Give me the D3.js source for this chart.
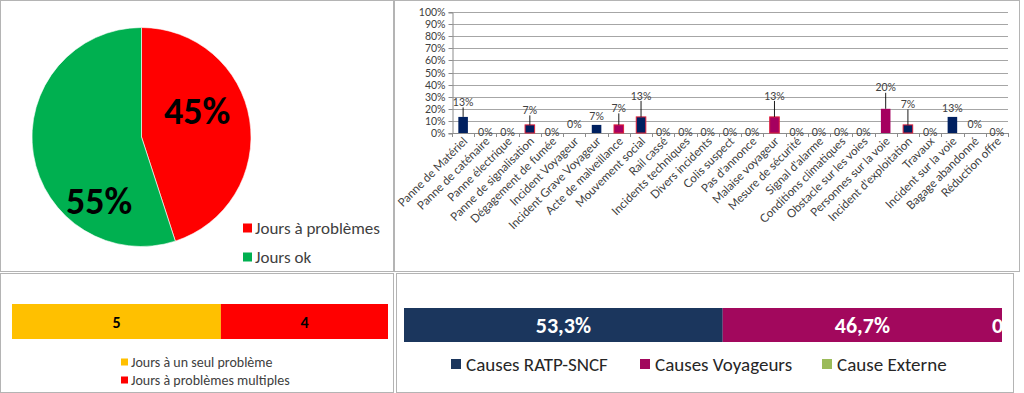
<!DOCTYPE html>
<html>
<head>
<meta charset="utf-8">
<script src="https://cdn.jsdelivr.net/npm/d3@7"></script>
<style>
  html, body { margin: 0; padding: 0; background: #fff; }
  svg { display: block; font-family: Carlito, Calibri, Lato, "Open Sans", sans-serif; }
</style>
</head>
<body>
<svg id="chart" width="1024" height="393"></svg>
<script>
// ---------- DATA ----------
const pieLabels = ["Jours à problèmes", "Jours ok"];
const pieValues = [45, 55];

const dayTypeLabels = ["Jours à un seul problème", "Jours à problèmes multiples"];
const dayTypeValues = [5, 4];

const causeLabels = ["Causes RATP-SNCF", "Causes Voyageurs", "Cause Externe"];
const causeValues = [53.3, 46.7, 0];

const categories = [
  "Panne de Matériel", "Panne de caténaire", "Panne électrique", "Panne de signalisation",
  "Dégagement de fumée", "Incident Voyageur", "Incident Grave Voyageur", "Acte de malveillance",
  "Mouvement social", "Rail cassé", "Incidents techniques", "Divers incidents", "Colis suspect",
  "Pas d'annonce", "Malaise voyageur", "Mesure de sécurité", "Signal d'alarme",
  "Conditions climatiques", "Obstacle sur les voies", "Personnes sur la voie",
  "Incident d'exploitation", "Travaux", "Incident sur la voie", "Bagage abandonné", "Réduction offre"
];
const categoryValues = [13.3, 0, 0, 6.7, 0, 0, 6.7, 6.7, 13.3, 0, 0, 0, 0, 0, 13.3, 0, 0, 0, 0, 20, 6.7, 0, 13.3, 0, 0];
const categoryGroup = [
  "RATP", "RATP", "RATP", "RATP", "RATP", "Voyageurs", "RATP", "Voyageurs",
  "RATP", "RATP", "RATP", "RATP", "Voyageurs", "RATP", "Voyageurs", "RATP", "Voyageurs",
  "Externe", "Externe", "Voyageurs", "RATP", "RATP", "RATP", "Voyageurs", "RATP"
];
const yTicks = [0, 10, 20, 30, 40, 50, 60, 70, 80, 90, 100];

// ---------- STYLE / LAYOUT ----------
const groupColor = { RATP: "#002060", Voyageurs: "#A5005F", Externe: "#9BBB59" };
const outlined = new Set(["Panne de signalisation", "Acte de malveillance", "Mouvement social",
  "Malaise voyageur", "Incident d'exploitation"]);
// extra upward shift (px) of some data labels, as in the reference (Excel label placement)
const labelRaise = { 0: 6, 3: 6, 5: 8.5, 7: 8, 8: 12.5, 14: 12.5, 19: 12.5, 20: 12, 23: 8.5 };

const svg = d3.select("#chart");
const border = "#b4b4b4";

// panel frames
[[0.5, 0.5, 393, 271], [394.5, 0.5, 625, 271], [0.5, 273.5, 393, 119], [396.5, 273.5, 617, 119]]
  .forEach(([x, y, w, h]) => svg.append("rect").attr("x", x).attr("y", y).attr("width", w).attr("height", h)
    .attr("fill", "none").attr("stroke", border));

// ---------- PIE ----------
const pieColors = ["#FF0000", "#00B050"];
const pieG = svg.append("g").attr("transform", "translate(141.5,137)");
const pie = d3.pie().sort(null).value(d => d)(pieValues);
const arc = d3.arc().innerRadius(0).outerRadius(109.5);
pieG.selectAll("path").data(pie).join("path")
  .attr("d", arc).attr("fill", (d, i) => pieColors[i]).attr("stroke", "#fff").attr("stroke-width", 0.6);
// label positions: polar (angle from top, radius)
const pieLabelPos = [[64, 62], [214, 76]];
pieG.selectAll("text.pl").data(pie).join("text").attr("class", "pl")
  .attr("x", (d, i) => pieLabelPos[i][1] * Math.sin(pieLabelPos[i][0] * Math.PI / 180))
  .attr("y", (d, i) => -pieLabelPos[i][1] * Math.cos(pieLabelPos[i][0] * Math.PI / 180))
  .attr("dy", "0.36em").attr("text-anchor", "middle")
  .attr("font-size", 38).attr("font-weight", "bold").attr("fill", "#000")
  .text(d => d3.format(".0%")(d.data / 100));
const pieLeg = svg.append("g").attr("transform", "translate(243,228)");
pieLabels.forEach((l, i) => {
  const g = pieLeg.append("g").attr("transform", `translate(0,${i * 29})`);
  g.append("rect").attr("x", 0).attr("y", -4.5).attr("width", 9).attr("height", 9).attr("fill", pieColors[i]);
  g.append("text").attr("x", 12).attr("dy", "0.35em").attr("font-size", 17).attr("fill", "#404040").text(l);
});

// ---------- CATEGORY BAR CHART ----------
const x = d3.scaleBand().domain(categories).range([452, 1008]).paddingInner(0.57).paddingOuter(0.285);
const y = d3.scaleLinear().domain([0, 100]).range([133, 12]);

const grid = svg.append("g");
grid.selectAll("line").data(yTicks).join("line")
  .attr("x1", 452).attr("x2", 1008).attr("y1", d => Math.round(y(d)) + 0.5).attr("y2", d => Math.round(y(d)) + 0.5)
  .attr("stroke", d => d === 0 ? "#8c8c8c" : "#a6a6a6").attr("stroke-width", 1);

const yAxis = d3.axisLeft(y).tickValues(yTicks).tickSize(4).tickFormat(d => d + "%");
const yg = svg.append("g").attr("transform", "translate(452.5,0.5)").call(yAxis);
yg.select(".domain").attr("stroke", "#8c8c8c");
yg.selectAll(".tick line").attr("stroke", "#8c8c8c");
yg.selectAll(".tick text").attr("font-family", "Lato, sans-serif").attr("font-size", 10.5).attr("fill", "#404040").attr("x", -7);
yg.selectAll(".tick").attr("transform", d => `translate(0,${Math.round(y(d))})`);

// category boundary tick marks
const step = x.step();
svg.append("g").selectAll("line").data(d3.range(categories.length + 1)).join("line")
  .attr("x1", i => Math.round(452 + i * step) + 0.5).attr("x2", i => Math.round(452 + i * step) + 0.5)
  .attr("y1", 133).attr("y2", 137).attr("stroke", "#8c8c8c");

// bars
svg.append("g").selectAll("rect").data(categories).join("rect")
  .attr("x", d => x(d)).attr("width", x.bandwidth())
  .attr("y", (d, i) => y(categoryValues[i])).attr("height", (d, i) => y(0) - y(categoryValues[i]))
  .attr("fill", (d, i) => groupColor[categoryGroup[i]])
  .attr("stroke", d => outlined.has(d) ? "#E0203C" : "none").attr("stroke-width", 1)
  .attr("display", (d, i) => categoryValues[i] > 0 ? null : "none");

// data labels + leader lines
const labG = svg.append("g");
categories.forEach((c, i) => {
  const v = categoryValues[i];
  const cx = x(c) + x.bandwidth() / 2;
  const top = y(v);
  const base = v > 0 ? top - 8.5 : top - 0.5;
  const cy = base - (labelRaise[i] || 0);
  if (v > 0 && (labelRaise[i] || 0) > 5) {
    labG.append("line").attr("x1", cx).attr("x2", cx).attr("y1", cy + 5).attr("y2", top)
      .attr("stroke", "#000").attr("stroke-width", 0.9);
  }
  labG.append("text").attr("x", cx).attr("y", cy).attr("dy", "0.35em").attr("text-anchor", "middle")
    .attr("font-family", "Lato, sans-serif").attr("font-size", 10.5).attr("fill", "#404040")
    .text(Math.round(v) + "%");
});

// rotated category labels
svg.append("g").selectAll("text").data(categories).join("text")
  .attr("transform", d => `translate(${x(d) + x.bandwidth() / 2 + 5},${142}) rotate(-45)`)
  .attr("text-anchor", "end")
  .attr("font-family", "Lato, sans-serif").attr("font-size", 11.6).attr("fill", "#404040")
  .text(d => d);

// ---------- DAY TYPE STACKED BAR ----------
const dayColors = ["#FFC000", "#FF0000"];
const xd = d3.scaleLinear().domain([0, d3.sum(dayTypeValues)]).range([12, 388]);
const dayCum = d3.cumsum(dayTypeValues);
const dayG = svg.append("g");
dayTypeValues.forEach((v, i) => {
  const x0 = xd(dayCum[i] - v), x1 = xd(dayCum[i]);
  dayG.append("rect").attr("x", x0).attr("y", 304).attr("width", x1 - x0).attr("height", 35).attr("fill", dayColors[i]);
  dayG.append("text").attr("x", (x0 + x1) / 2).attr("y", 322).attr("dy", "0.35em").attr("text-anchor", "middle")
    .attr("font-size", 16).attr("font-weight", "bold").attr("fill", "#000").text(v);
});
dayTypeLabels.forEach((l, i) => {
  const g = dayG.append("g").attr("transform", `translate(121,${362 + i * 18})`);
  g.append("rect").attr("x", 0).attr("y", -3.5).attr("width", 7).attr("height", 7).attr("fill", dayColors[i]);
  g.append("text").attr("x", 10).attr("dy", "0.35em").attr("font-size", 14).attr("fill", "#404040").text(l);
});

// ---------- CAUSES STACKED BAR ----------
const causeColors = ["#1B365D", "#A2085D", "#9BBB59"];
const xc = d3.scaleLinear().domain([0, 100]).range([404, 1002]);
const causeCum = d3.cumsum(causeValues);
const cG = svg.append("g");
svg.append("clipPath").attr("id", "cclip").append("rect").attr("x", 396).attr("y", 274).attr("width", 609).attr("height", 118);
const cInner = cG.append("g").attr("clip-path", "url(#cclip)");
causeValues.forEach((v, i) => {
  const x0 = xc(causeCum[i] - v), x1 = xc(causeCum[i]);
  cInner.append("rect").attr("x", x0).attr("y", 308).attr("width", x1 - x0).attr("height", 34).attr("fill", causeColors[i]);
  cInner.append("text").attr("x", v > 0 ? (x0 + x1) / 2 : x0 - 10).attr("y", 325).attr("dy", "0.35em")
    .attr("text-anchor", v > 0 ? "middle" : "start").attr("font-size", 22).attr("font-weight", "bold").attr("fill", "#fff")
    .text(d3.format(",.1f")(v).replace(".", ",").replace(",0", "") + "%");
});
const cLegX = [451, 640, 822];
causeLabels.forEach((l, i) => {
  const g = cG.append("g").attr("transform", `translate(${cLegX[i]},364)`);
  g.append("rect").attr("x", 0).attr("y", -5).attr("width", 10).attr("height", 10).attr("fill", causeColors[i]);
  g.append("text").attr("x", 15).attr("dy", "0.36em").attr("font-size", 19).attr("fill", "#262626").text(l);
});
</script>
</body>
</html>
